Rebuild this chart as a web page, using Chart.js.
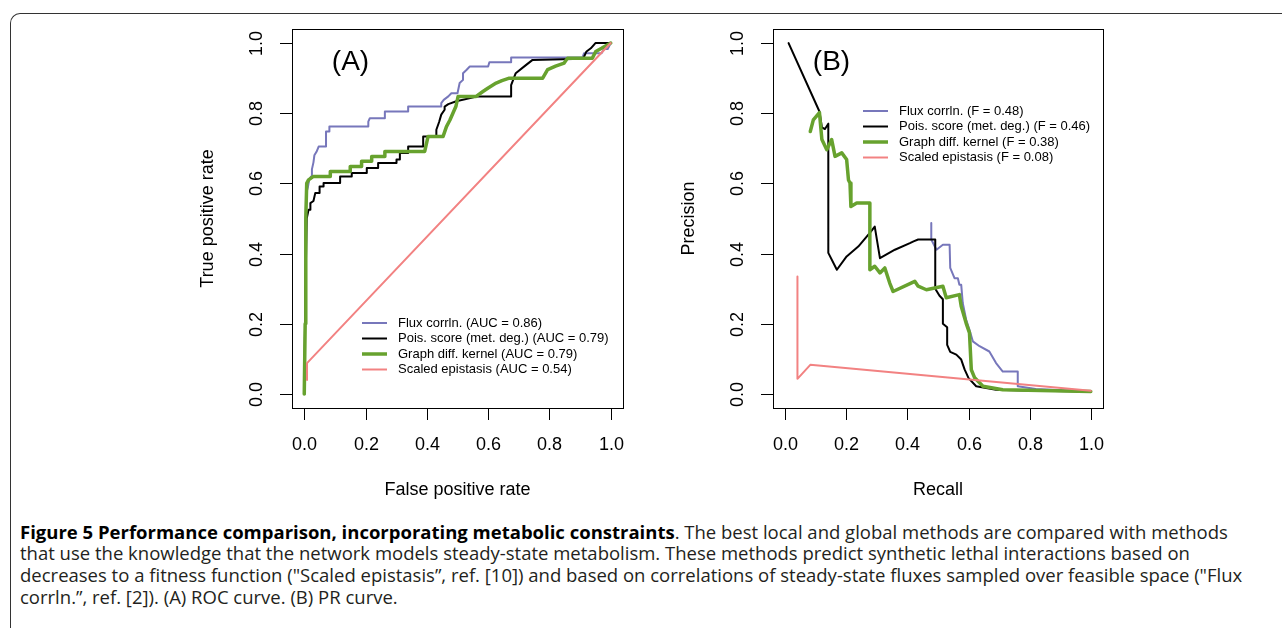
<!DOCTYPE html>
<html>
<head>
<meta charset="utf-8">
<script src="https://cdn.jsdelivr.net/npm/chart.js@4.4.1/dist/chart.umd.min.js"></script>
<style>
  body { margin: 0; background: #fff; width: 1282px; height: 628px; overflow: hidden; position: relative; }
  #frame { position: absolute; left: 10px; top: 13px; width: 1320px; height: 700px;
           border-top: 1.5px solid #333; border-left: 1.5px solid #333; border-top-left-radius: 10px; }
  canvas { position: absolute; top: 0; }
  #rocChart { left: 0; }
  #prChart { left: 641px; }
  .cap { position: absolute; left: 20px; white-space: nowrap; color: #231f20; font-family: "Open Sans", sans-serif; line-height: 20px; }
  .cap b { color: #000; }
</style>
</head>
<body>
<div id="frame"></div>
<canvas id="rocChart" width="641" height="510"></canvas>
<canvas id="prChart" width="641" height="510"></canvas>
<div id="caption"></div>
<script>
// axis ticks, same on both panels
const tickValues = [0, 0.2, 0.4, 0.6, 0.8, 1.0];
const tickLabels = ["0.0", "0.2", "0.4", "0.6", "0.8", "1.0"];

const seriesNames = ["Flux corrln.", "Pois. score (met. deg.)", "Graph diff. kernel", "Scaled epistasis"];
const rocAuc = ["0.86", "0.79", "0.79", "0.54"];
const prF = ["0.48", "0.46", "0.38", "0.08"];

// (A) ROC curves, [false positive rate, true positive rate]
const rocFlux = [[0,0],[0.002,0.15],[0.004,0.45],[0.006,0.57],[0.012,0.59],[0.016,0.61],[0.022,0.62],[0.025,0.64],
  [0.03,0.66],[0.033,0.68],[0.04,0.69],[0.047,0.705],[0.071,0.705],[0.071,0.748],[0.082,0.748],[0.082,0.762],
  [0.209,0.762],[0.209,0.776],[0.214,0.786],[0.263,0.786],[0.263,0.805],[0.339,0.805],[0.339,0.819],[0.447,0.819],
  [0.447,0.829],[0.455,0.838],[0.47,0.848],[0.48,0.857],[0.5,0.857],[0.507,0.886],[0.518,0.895],[0.518,0.914],
  [0.53,0.924],[0.54,0.933],[0.6,0.933],[0.604,0.945],[0.675,0.945],[0.675,0.959],[0.908,0.959],[0.913,0.971],
  [0.97,0.971],[0.978,0.983],[0.99,0.983],[1,1]];
const rocPois = [[0,0],[0.004,0.3],[0.008,0.5],[0.014,0.525],[0.02,0.525],[0.02,0.544],[0.03,0.55],[0.036,0.573],
  [0.05,0.573],[0.05,0.591],[0.063,0.591],[0.063,0.601],[0.117,0.601],[0.117,0.62],[0.155,0.62],[0.155,0.63],
  [0.204,0.63],[0.204,0.644],[0.241,0.644],[0.241,0.658],[0.301,0.658],[0.301,0.668],[0.312,0.668],[0.312,0.687],
  [0.339,0.687],[0.339,0.705],[0.388,0.705],[0.388,0.734],[0.431,0.734],[0.431,0.753],[0.44,0.775],[0.447,0.796],
  [0.458,0.81],[0.458,0.819],[0.47,0.826],[0.496,0.834],[0.566,0.848],[0.675,0.848],[0.675,0.88],[0.69,0.914],
  [0.72,0.935],[0.745,0.952],[0.91,0.955],[0.92,0.975],[0.935,0.985],[0.95,1],[1,1]];
const rocGraph = [[0,0],[0.003,0.2],[0.005,0.5],[0.008,0.6],[0.014,0.61],[0.03,0.62],[0.085,0.62],[0.085,0.634],
  [0.15,0.634],[0.15,0.648],[0.187,0.648],[0.187,0.663],[0.22,0.663],[0.22,0.677],[0.263,0.677],[0.263,0.691],
  [0.393,0.691],[0.404,0.734],[0.453,0.734],[0.464,0.762],[0.475,0.78],[0.485,0.8],[0.495,0.82],[0.502,0.848],
  [0.561,0.848],[0.583,0.862],[0.6,0.872],[0.626,0.886],[0.645,0.893],[0.669,0.9],[0.778,0.9],[0.794,0.924],
  [0.82,0.934],[0.848,0.943],[0.859,0.957],[0.94,0.957],[0.951,0.976],[0.97,0.985],[1,1]];
const rocEpist = [[0.009,0.04],[0.009,0.088],[1,1]];

// (B) PR curves, [recall, precision]
const prFlux = [[0.478,0.487],[0.478,0.44],[0.495,0.411],[0.516,0.425],[0.538,0.425],[0.54,0.359],[0.554,0.33],
  [0.565,0.33],[0.57,0.311],[0.576,0.311],[0.581,0.259],[0.592,0.212],[0.603,0.183],[0.614,0.15],[0.636,0.136],
  [0.668,0.121],[0.69,0.088],[0.712,0.064],[0.761,0.064],[0.761,0.022],[0.82,0.014],[1,0.007]];
const prPois = [[0.011,1.0],[0.112,0.805],[0.12,0.76],[0.13,0.755],[0.141,0.77],[0.141,0.402],[0.169,0.354],
  [0.201,0.392],[0.239,0.42],[0.277,0.459],[0.293,0.477],[0.31,0.387],[0.359,0.411],[0.408,0.43],[0.42,0.435],
  [0.435,0.44],[0.491,0.44],[0.491,0.3],[0.505,0.28],[0.516,0.27],[0.516,0.2],[0.53,0.19],[0.53,0.14],
  [0.54,0.12],[0.56,0.112],[0.576,0.098],[0.587,0.07],[0.6,0.045],[0.625,0.022],[0.69,0.012],[0.82,0.009],[1,0.007]];
const prGraph = [[0.082,0.748],[0.092,0.781],[0.112,0.802],[0.12,0.725],[0.136,0.696],[0.152,0.725],[0.163,0.677],
  [0.185,0.687],[0.201,0.668],[0.207,0.61],[0.212,0.601],[0.215,0.534],[0.234,0.544],[0.277,0.544],[0.277,0.354],
  [0.293,0.364],[0.31,0.345],[0.326,0.359],[0.342,0.316],[0.353,0.292],[0.424,0.321],[0.435,0.307],[0.462,0.297],
  [0.516,0.307],[0.527,0.274],[0.57,0.283],[0.576,0.25],[0.592,0.202],[0.603,0.174],[0.609,0.069],[0.62,0.046],
  [0.647,0.022],[0.712,0.012],[1,0.007]];
const prEpist = [[0.04,0.335],[0.04,0.043],[0.082,0.083],[1,0.009]];

const seriesColors = ["#7777bb", "#000000", "#67a22e", "#f28282"];
const seriesWidths = [2, 2, 3.5, 2];

const captionBold = "Figure 5 Performance comparison, incorporating metabolic constraints";
const captionLines = [
  ". The best local and global methods are compared with methods",
  "that use the knowledge that the network models steady-state metabolism. These methods predict synthetic lethal interactions based on",
  "decreases to a fitness function (\"Scaled epistasis\u201d, ref. [10]) and based on correlations of steady-state fluxes sampled over feasible space (\"Flux",
  "corrln.\u201d, ref. [2]). (A) ROC curve. (B) PR curve."
];

function toPoints(pairs) {
  return pairs.map(p => ({ x: p[0], y: p[1] }));
}

function buildDatasets(lists, suffix) {
  return lists.map((pairs, i) => ({
    label: seriesNames[i] + suffix[i],
    data: toPoints(pairs),
    borderColor: seriesColors[i],
    borderWidth: seriesWidths[i],
    showLine: true,
    pointRadius: 0,
    tension: 0,
    borderJoinStyle: "round",
    borderCapStyle: "round",
    order: lists.length - i   // later series on top, as in R
  }));
}

// R-like box, ticks, labels and legend drawn from the chart scales
const rAxes = {
  id: "rAxes",
  afterDraw(chart, args, opts) {
    const ctx = chart.ctx;
    const a = chart.chartArea;
    const xs = chart.scales.x, ys = chart.scales.y;
    ctx.save();
    ctx.strokeStyle = "#000";
    ctx.fillStyle = "#000";
    ctx.lineWidth = 1;
    ctx.strokeRect(Math.round(a.left) + 0.5, Math.round(a.top) + 0.5, Math.round(a.right - a.left), Math.round(a.bottom - a.top));

    ctx.font = '18px "Liberation Sans", Arial, sans-serif';
    ctx.textAlign = "center";
    ctx.textBaseline = "middle";
    tickValues.forEach((v, i) => {
      const px = Math.round(xs.getPixelForValue(v)) + 0.5;
      ctx.beginPath(); ctx.moveTo(px, a.bottom); ctx.lineTo(px, a.bottom + 12); ctx.stroke();
      ctx.fillText(tickLabels[i], px, a.bottom + 37);
      const py = Math.round(ys.getPixelForValue(v)) + 0.5;
      ctx.beginPath(); ctx.moveTo(a.left, py); ctx.lineTo(a.left - 12, py); ctx.stroke();
      ctx.save();
      ctx.translate(a.left - 35, py);
      ctx.rotate(-Math.PI / 2);
      ctx.fillText(tickLabels[i], 0, 0);
      ctx.restore();
    });

    ctx.fillText(opts.xTitle, (a.left + a.right) / 2, a.bottom + 82);
    ctx.save();
    ctx.translate(a.left - 84, (a.top + a.bottom) / 2);
    ctx.rotate(-Math.PI / 2);
    ctx.fillText(opts.yTitle, 0, 0);
    ctx.restore();

    ctx.font = '28px "Liberation Sans", Arial, sans-serif';
    ctx.fillText(opts.panel, a.left + 58.5, a.top + 33);

    // legend
    ctx.font = '13px "Liberation Sans", Arial, sans-serif';
    ctx.textAlign = "left";
    chart.data.datasets.forEach((ds, i) => {
      const y = a.top + opts.legendY + i * 15.5;
      ctx.strokeStyle = ds.borderColor;
      ctx.lineWidth = ds.borderWidth;
      ctx.beginPath();
      ctx.moveTo(a.left + opts.legendX, y);
      ctx.lineTo(a.left + opts.legendX + 25, y);
      ctx.stroke();
      ctx.fillStyle = "#000";
      ctx.fillText(ds.label, a.left + opts.legendX + 36, y);
    });
    ctx.restore();
  }
};

function makeChart(id, datasets, pad, axesOpts) {
  return new Chart(document.getElementById(id), {
    type: "scatter",
    data: { datasets },
    options: {
      responsive: false,
      animation: false,
      layout: { padding: pad },
      scales: {
        x: { type: "linear", min: -0.04, max: 1.04, display: false },
        y: { type: "linear", min: -0.04, max: 1.04, display: false }
      },
      plugins: {
        legend: { display: false },
        tooltip: { enabled: false },
        rAxes: axesOpts
      }
    },
    plugins: [rAxes]
  });
}

const rocSuffix = rocAuc.map(v => " (AUC = " + v + ")");
const prSuffix = prF.map(v => " (F = " + v + ")");

makeChart("rocChart", buildDatasets([rocFlux, rocPois, rocGraph, rocEpist], rocSuffix),
  { left: 292, top: 29, right: 18, bottom: 102 },
  { panel: "(A)", xTitle: "False positive rate", yTitle: "True positive rate", legendX: 70, legendY: 294 });

makeChart("prChart", buildDatasets([prFlux, prPois, prGraph, prEpist], prSuffix),
  { left: 132, top: 29, right: 179, bottom: 102 },
  { panel: "(B)", xTitle: "Recall", yTitle: "Precision", legendX: 90, legendY: 82 });

// caption, sized so the third line spans the same width as in the figure
const capFont = '"Open Sans", sans-serif';
const m = document.createElement("canvas").getContext("2d");
m.font = "100px " + capFont;
const capSize = 100 * 1222 / m.measureText(captionLines[2]).width;
const capTops = [522, 543, 565, 587];
const cap = document.getElementById("caption");
capTops.forEach((t, i) => {
  const d = document.createElement("div");
  d.className = "cap";
  d.style.top = t + "px";
  d.style.fontSize = capSize.toFixed(2) + "px";
  if (i === 0) {
    const b = document.createElement("b");
    b.textContent = captionBold;
    d.appendChild(b);
    d.appendChild(document.createTextNode(captionLines[0]));
  } else {
    d.textContent = captionLines[i];
  }
  cap.appendChild(d);
});
</script>
</body>
</html>
